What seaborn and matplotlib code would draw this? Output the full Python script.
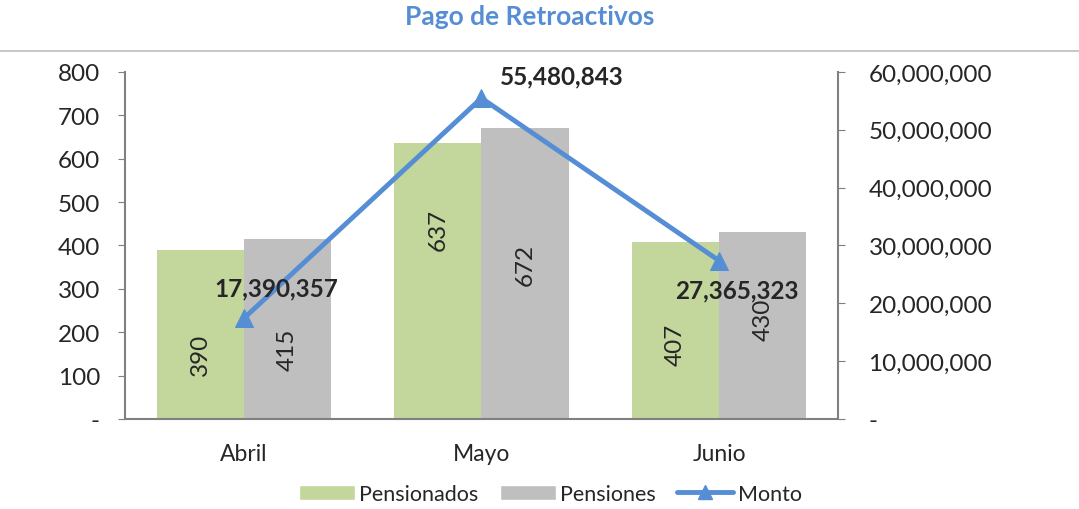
import numpy as np
import pandas as pd
import matplotlib.pyplot as plt
import seaborn as sns
from matplotlib.lines import Line2D
from matplotlib.patches import Patch
from matplotlib.ticker import FuncFormatter

# datos
meses = ["Abril", "Mayo", "Junio"]
pensionados = [390, 637, 407]
pensiones = [415, 672, 430]
monto = [17390357, 55480843, 27365323]

# posicion de las etiquetas de barras (valor en eje izquierdo)
label_y_pensionados = [150, 438, 173]
label_y_pensiones = [161, 357, 230]

verde = "#C3D69B"
gris = "#BFBFBF"
azul = "#558ED5"

sns.set_style("white")
plt.rcParams["font.family"] = ["Lato", "DejaVu Sans"]

df = pd.DataFrame({
    "mes": meses * 2,
    "serie": ["Pensionados"] * 3 + ["Pensiones"] * 3,
    "valor": pensionados + pensiones,
})

fig = plt.figure(figsize=(10.79, 5.10), dpi=100)
ax = fig.add_axes([0.1158, 0.1765, 0.6608, 0.6804])

sns.barplot(data=df, x="mes", y="valor", hue="serie", palette=[verde, gris],
            saturation=1, width=0.734, gap=0, linewidth=0, ax=ax, legend=False)
ax.set_xlim(-0.5, 2.5)
ax.set_ylim(0, 800)
ax.set_yticks(range(0, 801, 100))
ax.yaxis.set_major_formatter(FuncFormatter(lambda v, p: "-" if v == 0 else f"{v:,.0f}"))
ax.set_xlabel("")
ax.set_ylabel("")
ax.tick_params(axis="y", labelsize=17.5, length=5, left=True, color="#7F7F7F", pad=13)
ax.tick_params(axis="x", labelsize=16.5, length=0, pad=17)

for s in ["top", "right"]:
    ax.spines[s].set_visible(False)
for s in ["left", "bottom"]:
    ax.spines[s].set_color("#808080")
    ax.spines[s].set_linewidth(1.5)

w = 0.734 / 2
for i in range(len(meses)):
    ax.text(i - w / 2, label_y_pensionados[i], str(pensionados[i]), rotation=90,
            ha="center", va="center", fontsize=17.5)
    ax.text(i + w / 2, label_y_pensiones[i], str(pensiones[i]), rotation=90,
            ha="center", va="center", fontsize=17.5)

ax2 = ax.twinx()
sns.lineplot(x=np.arange(len(meses)), y=monto, ax=ax2, color=azul, linewidth=3.5,
             marker="^", markersize=13, markeredgecolor=azul)
ax2.set_ylim(0, 60000000)
ax2.set_yticks(range(0, 60000001, 10000000))
ax2.yaxis.set_major_formatter(FuncFormatter(lambda v, p: "-" if v == 0 else f"{v:,.0f}"))
ax2.tick_params(axis="y", labelsize=17.5, length=5, right=True, color="#7F7F7F", pad=17)
for s in ["top", "left", "bottom"]:
    ax2.spines[s].set_visible(False)
ax2.spines["right"].set_color("#808080")
ax2.spines["right"].set_linewidth(1.5)

# etiquetas del monto
offsets = [(0.135, 5300000), (0.34, 3800000), (0.076, -5000000)]
for i, m in enumerate(monto):
    dx, dy = offsets[i]
    ax2.text(i + dx, m + dy, f"{m:,}", ha="center", va="center",
             fontsize=17.5, fontweight="bold")

fig.text(0.491, 0.967, "Pago de Retroactivos", ha="center", va="center",
         fontsize=19, fontweight="bold", color=azul)
fig.add_artist(Line2D([0, 1], [0.898, 0.898], color="#BFBFBF", linewidth=1.2))

handles = [Patch(facecolor=verde), Patch(facecolor=gris),
           Line2D([], [], color=azul, linewidth=3.5, marker="^", markersize=10)]
fig.legend(handles, ["Pensionados", "Pensiones", "Monto"], loc="center",
           bbox_to_anchor=(0.51, 0.03), ncol=3, frameon=False, fontsize=15.5,
           handlelength=2.6, handletextpad=0.2, columnspacing=1.0)

fig.savefig("out.png", dpi=100)
